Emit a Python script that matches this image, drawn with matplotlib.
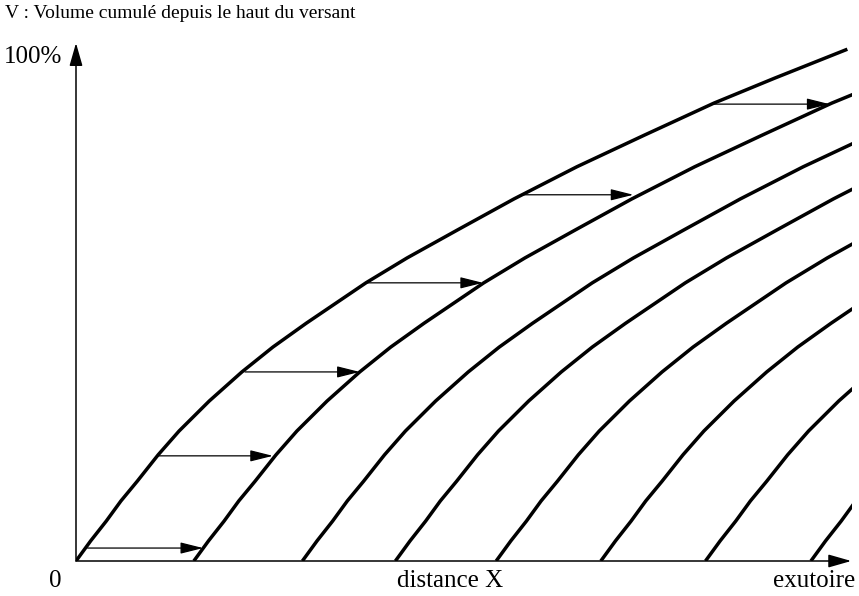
import matplotlib
matplotlib.use('Agg')
import matplotlib.pyplot as plt

# courbe de base : distance X (% de la longueur jusqu'à l'exutoire) et V cumulé (%)
base_x = [0, 1.9, 3.9, 5.8, 7.9, 10.6, 13.3, 17.2, 21.4, 25.4, 29.7, 37.4, 42.7,
          49.2, 56.5, 64.6, 73.3, 82.3, 90.1, 99.5]
base_v = [0, 3.9, 7.7, 11.6, 15.4, 20.5, 25.1, 30.9, 36.5, 41.3, 45.9, 53.7, 58.5,
          63.9, 69.9, 76.1, 82.2, 88.4, 93.2, 98.8]

# départ de chaque courbe le long de l'axe X
offsets = [0, 15.2, 29.2, 41.2, 54.2, 67.7, 81.2, 94.8]

# flèches de transfert entre la 1re et la 2e courbe
arrow_v = [2.5, 20.3, 36.5, 53.7, 70.7, 88.2]
arrow_start = [1.5, 10.6, 21.8, 37.5, 57.4, 82.1]
arrow_end = [16.4, 25.4, 36.6, 52.5, 71.9, 97.2]

plt.rcParams['font.family'] = ['Liberation Serif', 'DejaVu Serif']

fig = plt.figure(figsize=(8.59, 5.96), dpi=100)
ax = fig.add_axes([76 / 859, 35 / 596, 776 / 859, 518 / 596])
ax.set_xlim(0, 100.1)
ax.set_ylim(0, 100)
ax.axis('off')

# courbes
for off in offsets:
    ax.plot([x + off for x in base_x], base_v, color='black', lw=2.5,
            solid_capstyle='butt', solid_joinstyle='round')

# flèches horizontales
for v, s, e in zip(arrow_v, arrow_start, arrow_end):
    ax.annotate('', xy=(e, v), xytext=(s, v),
                arrowprops=dict(arrowstyle='-|>,head_length=1.4,head_width=0.35',
                                color='black', lw=0.9, shrinkA=0, shrinkB=0))

# axes avec flèches
axis_style = dict(arrowstyle='-|>,head_length=1.4,head_width=0.4',
                  color='black', lw=1.1, shrinkA=0, shrinkB=0)
ax.annotate('', xy=(0, 100), xytext=(0, 0), arrowprops=axis_style, annotation_clip=False)
ax.annotate('', xy=(100, 0), xytext=(0, 0), arrowprops=axis_style, annotation_clip=False)

fig.text(5 / 859, 1 - 14 / 596, 'V : Volume cumulé depuis le haut du versant',
         ha='left', va='center', fontsize=14)
fs = 18
ax.text(-1.8, 97.3, '100%', ha='right', va='center', fontsize=fs, clip_on=False)
ax.text(-2.7, -3.9, '0', ha='center', va='center', fontsize=fs, clip_on=False)
ax.text(48.3, -3.9, 'distance X', ha='center', va='center', fontsize=fs, clip_on=False)
ax.text(100.5, -3.9, 'exutoire', ha='right', va='center', fontsize=fs, clip_on=False)

fig.savefig('out.png', dpi=100)
